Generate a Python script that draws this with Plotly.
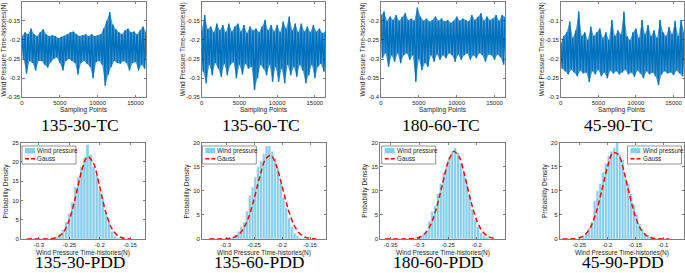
import plotly.graph_objects as go

# ---------------- DATA ----------------
TOP_TITLES = ["135-30-TC", "135-60-TC", "180-60-TC", "45-90-TC"]
BOT_TITLES = ["135-30-PDD", "135-60-PDD", "180-60-PDD", "45-90-PDD"]

# time-history envelope: upper extremes at samples 0,400,... and lower extremes at 200,600,...
hi_samples = list(range(0, 16401, 400))
lo_samples = list(range(200, 16401, 400))

ts1_hi = [-0.19, -0.18, -0.185, -0.17, -0.185, -0.19, -0.18, -0.172, -0.185, -0.19, -0.188, -0.19, -0.195, -0.192,
          -0.19, -0.185, -0.18, -0.178, -0.185, -0.19, -0.188, -0.185, -0.19, -0.185, -0.19, -0.188, -0.185, -0.17,
          -0.15, -0.127, -0.16, -0.172, -0.18, -0.185, -0.175, -0.17, -0.18, -0.178, -0.185, -0.175, -0.165, -0.18]
ts1_lo = [-0.25, -0.288, -0.255, -0.26, -0.28, -0.255, -0.255, -0.265, -0.272, -0.258, -0.25, -0.245, -0.26, -0.28,
          -0.255, -0.25, -0.255, -0.26, -0.29, -0.26, -0.255, -0.262, -0.27, -0.3, -0.258, -0.255, -0.265, -0.32,
          -0.29, -0.27, -0.255, -0.26, -0.262, -0.255, -0.26, -0.28, -0.26, -0.258, -0.28, -0.265, -0.275]

ts2_hi = [-0.175, -0.135, -0.172, -0.165, -0.18, -0.157, -0.175, -0.161, -0.18, -0.157, -0.178, -0.165, -0.157,
          -0.178, -0.161, -0.182, -0.165, -0.175, -0.17, -0.18, -0.165, -0.148, -0.175, -0.161, -0.178, -0.161,
          -0.18, -0.152, -0.17, -0.139, -0.175, -0.157, -0.18, -0.157, -0.178, -0.165, -0.18, -0.161, -0.178,
          -0.17, -0.182, -0.178]
ts2_lo = [-0.283, -0.313, -0.265, -0.292, -0.26, -0.275, -0.296, -0.262, -0.292, -0.265, -0.258, -0.30, -0.265,
          -0.29, -0.262, -0.275, -0.27, -0.331, -0.30, -0.265, -0.275, -0.292, -0.265, -0.309, -0.27, -0.309,
          -0.275, -0.313, -0.265, -0.292, -0.27, -0.296, -0.265, -0.28, -0.313, -0.292, -0.265, -0.30, -0.27,
          -0.262, -0.283]

ts3_hi = [-0.185, -0.176, -0.2, -0.189, -0.198, -0.185, -0.2, -0.19, -0.18, -0.198, -0.194, -0.2, -0.165, -0.189,
          -0.2, -0.194, -0.202, -0.198, -0.189, -0.2, -0.194, -0.202, -0.198, -0.205, -0.2, -0.189, -0.2, -0.194,
          -0.198, -0.202, -0.185, -0.198, -0.19, -0.18, -0.2, -0.189, -0.198, -0.194, -0.185, -0.2, -0.185, -0.19]
ts3_lo = [-0.298, -0.285, -0.32, -0.29, -0.307, -0.285, -0.311, -0.29, -0.285, -0.302, -0.29, -0.359, -0.3,
          -0.329, -0.31, -0.32, -0.29, -0.307, -0.288, -0.302, -0.29, -0.298, -0.285, -0.29, -0.307, -0.288,
          -0.302, -0.29, -0.285, -0.302, -0.29, -0.298, -0.285, -0.29, -0.307, -0.288, -0.29, -0.302, -0.288,
          -0.295, -0.315]

ts4_hi = [-0.16, -0.14, -0.13, -0.102, -0.145, -0.125, -0.076, -0.14, -0.13, -0.15, -0.115, -0.14, -0.13, -0.12,
          -0.145, -0.13, -0.15, -0.098, -0.14, -0.125, -0.135, -0.076, -0.14, -0.15, -0.13, -0.12, -0.145, -0.098,
          -0.135, -0.111, -0.14, -0.125, -0.145, -0.098, -0.13, -0.14, -0.116, -0.135, -0.1, -0.14, -0.098, -0.13]
ts4_lo = [-0.225, -0.232, -0.24, -0.228, -0.235, -0.245, -0.23, -0.238, -0.235, -0.26, -0.232, -0.24, -0.228,
          -0.245, -0.235, -0.25, -0.23, -0.238, -0.232, -0.24, -0.235, -0.228, -0.24, -0.235, -0.246, -0.23,
          -0.238, -0.25, -0.232, -0.24, -0.235, -0.245, -0.268, -0.24, -0.232, -0.238, -0.235, -0.242, -0.23,
          -0.238, -0.245]

TS_HI = [ts1_hi, ts2_hi, ts3_hi, ts4_hi]
TS_LO = [ts1_lo, ts2_lo, ts3_lo, ts4_lo]

TOP_YRANGES = [(-0.35, -0.1), (-0.35, -0.1), (-0.4, -0.15), (-0.3, -0.05)]
TOP_YTICKS = [[-0.35, -0.3, -0.25, -0.2, -0.15, -0.1],
              [-0.35, -0.3, -0.25, -0.2, -0.15, -0.1],
              [-0.4, -0.35, -0.3, -0.25, -0.2, -0.15],
              [-0.3, -0.25, -0.2, -0.15, -0.1, -0.05]]
TOP_YTICKTEXT = [["-0.35", "-0.3", "-0.25", "-0.2", "-0.15", "-0.1"],
                 ["-0.35", "-0.3", "-0.25", "-0.2", "-0.15", "-0.1"],
                 ["-0.4", "-0.35", "-0.3", "-0.25", "-0.2", "-0.15"],
                 ["-0.3", "-0.25", "-0.2", "-0.15", "-0.1", "-0.05"]]
TOP_XTICKS = [0, 5000, 10000, 15000]
TOP_XTICKTEXT = ["0", "5000", "10000", "15000"]
N_SAMPLES = 16384

# histograms (probability density) and Gauss fits
h1_x = [-0.27, -0.265, -0.26, -0.255, -0.25, -0.245, -0.24, -0.235, -0.23, -0.225, -0.22, -0.215, -0.21, -0.205,
        -0.2, -0.195, -0.19, -0.185, -0.18, -0.175, -0.17]
h1_y = [0.6, 1.3, 2.4, 4.4, 6.7, 9.5, 13.5, 16, 18.8, 21, 24.5, 21.9, 18.8, 16.6, 12.6, 10.4, 6.8, 4.4, 2, 0.8, 0.3]
h2_x = [-0.2925, -0.2875, -0.2825, -0.2775, -0.2725, -0.2675, -0.2625, -0.2575, -0.2525, -0.2475, -0.2425,
        -0.2375, -0.2325, -0.2275, -0.2225, -0.2175, -0.2125, -0.2075, -0.2025, -0.1975, -0.1925, -0.1875,
        -0.1825, -0.1775, -0.1725, -0.1675]
h2_y = [0.3, 0.5, 1, 1.6, 2.6, 3.5, 5.8, 9, 10.8, 12.9, 15, 16.1, 17.7, 19.3, 19.3, 18.2, 16.8, 14.7, 11.5, 8.7,
        6.5, 4.4, 2.6, 1.2, 0.6, 0.3]
h3_x = [-0.3025, -0.2975, -0.2925, -0.2875, -0.2825, -0.2775, -0.2725, -0.2675, -0.2625, -0.2575, -0.2525,
        -0.2475, -0.2425, -0.2375, -0.2325, -0.2275, -0.2225, -0.2175, -0.2125, -0.2075, -0.2025, -0.1975,
        -0.1925, -0.1875, -0.1825]
h3_y = [0.4, 0.6, 1.1, 1.7, 3.7, 5.7, 6.9, 9.4, 11.5, 13.8, 15, 17, 18.2, 18.9, 17.9, 15.7, 13.6, 11.5, 9, 6.2,
        4, 2.6, 1.3, 0.7, 0.35]
h4_x = [-0.2425, -0.2375, -0.2325, -0.2275, -0.2225, -0.2175, -0.2125, -0.2075, -0.2025, -0.1975, -0.1925,
        -0.1875, -0.1825, -0.1775, -0.1725, -0.1675, -0.1625, -0.1575, -0.1525, -0.1475, -0.1425, -0.1375,
        -0.1325, -0.1275, -0.1225, -0.1175, -0.1125]
h4_y = [0.6, 1.2, 2.3, 3.5, 7.9, 10, 11.5, 13.8, 15.7, 17.2, 18.2, 18.9, 20, 17.5, 16.5, 12.6, 11.5, 9.4, 7.2,
        5.1, 3.1, 2.1, 1.2, 0.9, 0.5, 0.3, 0.15]
BIN_WIDTH = 0.005

g1_x = [-0.32, -0.31, -0.30, -0.29, -0.28, -0.27, -0.26, -0.25, -0.24, -0.23, -0.22, -0.21, -0.20, -0.19, -0.18,
        -0.17, -0.16, -0.15]
g1_y = [0, 0, 0, 0.01, 0.08, 0.43, 1.68, 4.9, 10.7, 17.5, 21.4, 19.6, 13.5, 6.9, 2.7, 0.77, 0.17, 0.03]
g2_x = [-0.33, -0.32, -0.31, -0.30, -0.29, -0.28, -0.27, -0.26, -0.25, -0.24, -0.23, -0.22, -0.21, -0.20, -0.19,
        -0.18, -0.17, -0.16, -0.15, -0.14]
g2_y = [0, 0, 0.01, 0.05, 0.2, 0.69, 1.91, 4.36, 8.23, 12.8, 16.45, 17.4, 15.2, 11.0, 6.55, 3.23, 1.3, 0.43, 0.12,
        0.03]
g3_x = [-0.36, -0.35, -0.34, -0.33, -0.32, -0.31, -0.30, -0.29, -0.28, -0.27, -0.26, -0.25, -0.24, -0.23, -0.22,
        -0.21, -0.20, -0.19, -0.18, -0.17]
g3_y = [0, 0, 0, 0, 0.02, 0.09, 0.35, 1.15, 3.02, 6.47, 11.2, 15.9, 18.16, 16.9, 12.7, 7.8, 3.9, 1.57, 0.51, 0.14]
g4_x = [-0.28, -0.27, -0.26, -0.25, -0.24, -0.23, -0.22, -0.21, -0.20, -0.19, -0.18, -0.17, -0.16, -0.15, -0.14,
        -0.13, -0.12, -0.11, -0.10, -0.09]
g4_y = [0, 0.01, 0.06, 0.25, 0.87, 2.42, 5.48, 9.99, 14.8, 17.9, 17.5, 13.9, 9.0, 4.72, 2.0, 0.69, 0.19, 0.04,
        0.01, 0]

HX = [h1_x, h2_x, h3_x, h4_x]
HY = [h1_y, h2_y, h3_y, h4_y]
GX = [g1_x, g2_x, g3_x, g4_x]
GY = [g1_y, g2_y, g3_y, g4_y]

BOT_XRANGES = [(-0.33, -0.125), (-0.3434, -0.121), (-0.3687, -0.1505), (-0.2857, -0.063)]
BOT_XTICKS = [[-0.3, -0.25, -0.2, -0.15], [-0.3, -0.25, -0.2, -0.15],
              [-0.35, -0.3, -0.25, -0.2], [-0.25, -0.2, -0.15, -0.1]]
BOT_XTICKTEXT = [["-0.3", "-0.25", "-0.2", "-0.15"], ["-0.3", "-0.25", "-0.2", "-0.15"],
                 ["-0.35", "-0.3", "-0.25", "-0.2"], ["-0.25", "-0.2", "-0.15", "-0.1"]]
BOT_YMAX = [25, 20, 20, 20]
BOT_YTICKS = [[0, 5, 10, 15, 20, 25], [0, 5, 10, 15, 20], [0, 5, 10, 15, 20], [0, 5, 10, 15, 20]]

LEG_LABELS = ["Wind pressure", "Gauss"]

# ---------------- LAYOUT / STYLE ----------------
W, H = 685, 273
TXT = "#262626"
TS_COLOR = "#0072BD"
TS_LIGHT = "rgba(0,114,189,0.7)"
BAR_COLOR = "#87CEEB"
SANS = "Arial, Liberation Sans, sans-serif"
SERIF = "Times New Roman, Liberation Serif, serif"


def fx(p):
    return p / W


def fy(p):
    return 1 - p / H


top_frames = [(22, 146), (201.7, 325.3), (381, 505), (560.7, 684)]
bot_frames = [(20.7, 145.3), (201.7, 326.3), (380, 505), (559.3, 684)]
top_y = (1.7, 97.3)
bot_y = (142.5, 239)
top_title_x = [80, 260.8, 440.8, 618]
bot_title_x = [79.7, 259, 437.5, 623]
leg_left = [22, 202.3, 381.7, 627.5]

fig = go.Figure()
layout = dict(width=W, height=H, margin=dict(l=0, r=0, t=0, b=0, autoexpand=False), showlegend=False,
              plot_bgcolor="white", paper_bgcolor="white")

axis_common = dict(showline=True, mirror="ticks", linecolor=TXT, linewidth=0.6, ticks="inside",
                   ticklen=2.5, tickwidth=0.6, tickcolor=TXT, showgrid=False, zeroline=False,
                   automargin=False,
                   tickfont=dict(family=SANS, size=6, color=TXT), fixedrange=True)

annotations = []
shapes = []


def note(x, y, text, font, angle=0, xanchor="center", yanchor="middle"):
    annotations.append(dict(x=x, y=y, text=text, showarrow=False, xref="paper", yref="paper",
                            xanchor=xanchor, yanchor=yanchor, textangle=angle, font=font, borderpad=0))


lab_font = dict(family=SANS, size=6.5, color=TXT)
ttl_font = dict(family=SERIF, size=17.5, color="black")
leg_font = dict(family=SANS, size=6.3, color=TXT)

for k in range(4):
    # ---------- top: time histories ----------
    n = 2 * k + 1
    xa = "xaxis" if n == 1 else f"xaxis{n}"
    ya = "yaxis" if n == 1 else f"yaxis{n}"
    xr = "x" if n == 1 else f"x{n}"
    yr = "y" if n == 1 else f"y{n}"
    l, r = top_frames[k]
    # light envelope fill
    fig.add_trace(go.Scatter(x=hi_samples + lo_samples[::-1], y=TS_HI[k] + TS_LO[k][::-1], mode="lines",
                             fill="toself", fillcolor=TS_LIGHT, line=dict(width=0),
                             xaxis=xr, yaxis=yr, hoverinfo="skip"))
    xs, ys = [], []
    for i in range(len(TS_LO[k])):
        xs += [hi_samples[i], lo_samples[i]]
        ys += [TS_HI[k][i], TS_LO[k][i]]
    xs.append(hi_samples[len(TS_LO[k])])
    ys.append(TS_HI[k][len(TS_LO[k])])
    fig.add_trace(go.Scatter(x=xs, y=ys, mode="lines", line=dict(color=TS_COLOR, width=1.5),
                             xaxis=xr, yaxis=yr, hoverinfo="skip"))
    layout[xa] = dict(axis_common, domain=[fx(l), fx(r)], range=[0, N_SAMPLES], anchor=yr,
                      tickvals=TOP_XTICKS, ticktext=TOP_XTICKTEXT)
    layout[ya] = dict(axis_common, domain=[fy(top_y[1]), fy(top_y[0])], range=list(TOP_YRANGES[k]),
                      anchor=xr, tickvals=TOP_YTICKS[k], ticktext=TOP_YTICKTEXT[k])
    note(fx((l + r) / 2), fy(109.5), "Sampling Points", lab_font)
    note(fx(l - 19), fy((top_y[0] + top_y[1]) / 2), "Wind Pressure Time-histories(N)", lab_font, angle=-90)
    note(fx(top_title_x[k]), fy(125), TOP_TITLES[k], ttl_font)

    # ---------- bottom: PDD ----------
    n = 2 * k + 2
    xa, ya, xr, yr = f"xaxis{n}", f"yaxis{n}", f"x{n}", f"y{n}"
    l, r = bot_frames[k]
    fig.add_trace(go.Bar(x=HX[k], y=HY[k], width=BIN_WIDTH, xaxis=xr, yaxis=yr,
                         marker=dict(color=BAR_COLOR, line=dict(color="white", width=0.4)),
                         hoverinfo="skip"))
    fig.add_trace(go.Scatter(x=GX[k], y=GY[k], mode="lines", line=dict(color="red", width=1.5, dash="5px,3px",
                                                                       shape="spline", smoothing=0.8),
                             xaxis=xr, yaxis=yr, hoverinfo="skip"))
    layout[xa] = dict(axis_common, domain=[fx(l), fx(r)], range=list(BOT_XRANGES[k]), anchor=yr,
                      tickvals=BOT_XTICKS[k], ticktext=BOT_XTICKTEXT[k])
    layout[ya] = dict(axis_common, domain=[fy(bot_y[1]), fy(bot_y[0])], range=[0, BOT_YMAX[k]],
                      anchor=xr, tickvals=BOT_YTICKS[k])
    note(fx((l + r) / 2), fy(253), "Wind Pressure Time-histories(N)", lab_font)
    note(fx(l - 15), fy((bot_y[0] + bot_y[1]) / 2), "Probability Density", lab_font, angle=-90)
    note(fx(bot_title_x[k]), 0.0, BOT_TITLES[k], ttl_font, yanchor="bottom")

    # manual legend box
    lx = leg_left[k]
    shapes.append(dict(type="rect", xref="paper", yref="paper", x0=fx(lx), x1=fx(lx + 54),
                       y0=fy(164), y1=fy(146), line=dict(color=TXT, width=0.5), fillcolor="white", layer="above"))
    shapes.append(dict(type="rect", xref="paper", yref="paper", x0=fx(lx + 3), x1=fx(lx + 13),
                       y0=fy(153.3), y1=fy(148), line=dict(width=0), fillcolor=BAR_COLOR, layer="above"))
    shapes.append(dict(type="line", xref="paper", yref="paper", x0=fx(lx + 3), x1=fx(lx + 13),
                       y0=fy(158.7), y1=fy(158.7), line=dict(color="red", width=1.5, dash="4px,2px"),
                       layer="above"))
    note(fx(lx + 14), fy(150.7), LEG_LABELS[0], leg_font, xanchor="left")
    note(fx(lx + 14), fy(158.7), LEG_LABELS[1], leg_font, xanchor="left")

layout["annotations"] = annotations
layout["shapes"] = shapes
fig.update_layout(**layout)
fig.write_html("out.html", config={"displayModeBar": False, "staticPlot": True},
               post_script="document.body.style.margin='0';document.body.style.padding='0';"
                           "document.body.style.overflow='hidden';")
